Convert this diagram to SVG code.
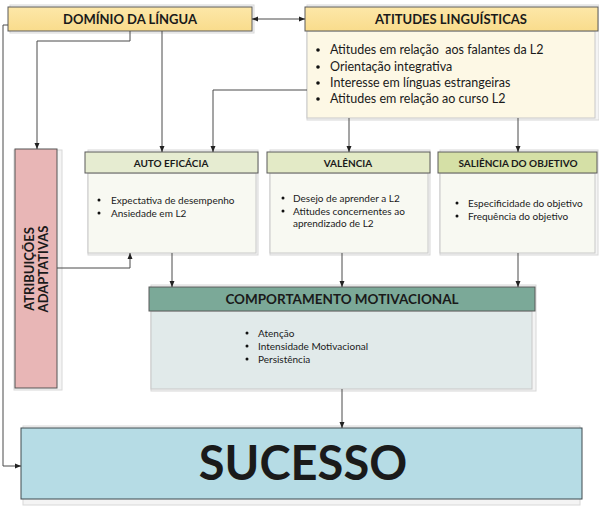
<svg xmlns="http://www.w3.org/2000/svg" width="599" height="511" viewBox="0 0 599 511">
<defs>
<marker id="ah" viewBox="0 0 6 6" refX="6" refY="3" markerWidth="6" markerHeight="6" markerUnits="userSpaceOnUse" orient="auto-start-reverse">
<path d="M0,0.5 L6,3 L0,5.5 Z" fill="#222"/>
</marker>
<linearGradient id="gold" x1="0" y1="0" x2="0" y2="1"><stop offset="0" stop-color="#fde7a8"/><stop offset="1" stop-color="#f9dc8c"/></linearGradient>
</defs>
<style>
.sh{fill:#f4f4f4;stroke:#d8d8d8;stroke-width:1}
.hd{stroke:#5a5a5a;stroke-width:1}
.bd{stroke:#c8c8c8;stroke-width:1}
.t{font-family:Lato,"Open Sans","DejaVu Sans",sans-serif;fill:#1a1a1a}
.b{font-weight:bold}
.c{stroke:#4a4a4a;stroke-width:1;fill:none}
</style>

<g id="dominio">
<rect class="sh" x="10" y="5" width="244" height="28"/>
<rect class="hd" x="8" y="7" width="244" height="24" fill="url(#gold)"/>
<text class="t b" x="130" y="24" font-size="13" text-anchor="middle">DOMÍNIO DA LÍNGUA</text>
</g>

<g id="atitudes">
<rect class="sh" x="307" y="5" width="292" height="115"/>
<rect class="bd" x="307" y="31" width="288" height="87" fill="#fdf8e5"/>
<rect class="hd" x="305" y="7" width="293" height="24" fill="url(#gold)"/>
<text class="t b" x="451" y="24" font-size="13" text-anchor="middle">ATITUDES LINGUÍSTICAS</text>
<g class="t" font-size="12.5">
<circle cx="318" cy="50" r="1.8" fill="#111"/><text x="330" y="54">Atitudes em relação&#160; aos falantes da L2</text>
<circle cx="318" cy="67" r="1.8" fill="#111"/><text x="330" y="71">Orientação integrativa</text>
<circle cx="318" cy="83" r="1.8" fill="#111"/><text x="330" y="87">Interesse em línguas estrangeiras</text>
<circle cx="318" cy="99" r="1.8" fill="#111"/><text x="330" y="103">Atitudes em relação ao curso L2</text>
</g>
</g>

<g id="atribuicoes">
<rect class="sh" x="14" y="150" width="48" height="240" fill="#f7f2f2"/>
<rect x="15" y="149" width="42" height="239" fill="#e8b6b6" stroke="#555" stroke-width="1"/>
<text class="t b" font-size="13" text-anchor="middle" transform="translate(33.5,269) rotate(-90)">ATRIBUIÇÕES</text>
<text class="t b" font-size="13" text-anchor="middle" transform="translate(47.5,269) rotate(-90)">ADAPTATIVAS</text>
</g>

<g id="auto-eficacia">
<rect class="sh" x="88" y="150" width="170" height="105"/>
<rect class="bd" x="88" y="173" width="168" height="80" fill="#f8f9f2"/>
<rect class="hd" x="85" y="152" width="173" height="21" fill="#e6ecd1"/>
<text class="t b" x="171" y="166.5" font-size="10" text-anchor="middle">AUTO EFICÁCIA</text>
<g class="t" font-size="10">
<circle cx="99" cy="200" r="1.5" fill="#111"/><text x="111" y="203.5">Expectativa de desempenho</text>
<circle cx="99" cy="213" r="1.5" fill="#111"/><text x="111" y="216.5">Ansiedade em L2</text>
</g>
</g>

<g id="valencia">
<rect class="sh" x="270" y="150" width="160" height="105"/>
<rect class="bd" x="270" y="173" width="158" height="80" fill="#f8f9f2"/>
<rect class="hd" x="267" y="152" width="163" height="21" fill="#e3eac6"/>
<text class="t b" x="348" y="166.5" font-size="10" text-anchor="middle">VALÊNCIA</text>
<g class="t" font-size="10">
<circle cx="283" cy="198" r="1.5" fill="#111"/><text x="293" y="201.5">Desejo de aprender a L2</text>
<circle cx="283" cy="211" r="1.5" fill="#111"/><text x="293" y="214.5">Atitudes concernentes ao</text>
<text x="293" y="226.5">aprendizado de L2</text>
</g>
</g>

<g id="saliencia">
<rect class="sh" x="440" y="150" width="158" height="105"/>
<rect class="bd" x="440" y="173" width="155" height="80" fill="#f8f9f2"/>
<rect class="hd" x="438" y="152" width="159" height="21" fill="#d5e0a6"/>
<text class="t b" x="518" y="166.5" font-size="10" text-anchor="middle">SALIÊNCIA DO OBJETIVO</text>
<g class="t" font-size="10">
<circle cx="457" cy="203" r="1.5" fill="#111"/><text x="468" y="206.5">Especificidade do objetivo</text>
<circle cx="457" cy="216" r="1.5" fill="#111"/><text x="468" y="219.5">Frequência do objetivo</text>
</g>
</g>

<g id="comportamento">
<rect class="sh" x="151" y="285" width="385" height="106"/>
<rect class="bd" x="151" y="311" width="381" height="78" fill="#e1eaea"/>
<rect class="hd" x="149" y="287" width="386" height="24" fill="#7ba998"/>
<text class="t b" x="342" y="304" font-size="13.5" text-anchor="middle">COMPORTAMENTO MOTIVACIONAL</text>
<g class="t" font-size="10">
<circle cx="247" cy="333" r="1.5" fill="#111"/><text x="258" y="336.5">Atenção</text>
<circle cx="247" cy="346" r="1.5" fill="#111"/><text x="258" y="349.5">Intensidade Motivacional</text>
<circle cx="247" cy="359" r="1.5" fill="#111"/><text x="258" y="362.5">Persistência</text>
</g>
</g>

<g id="sucesso">
<rect class="sh" x="23" y="426" width="557" height="79" fill="#eef6f8"/>
<rect x="21" y="428" width="561" height="71" fill="#b6dce5" stroke="#3f4a4f" stroke-width="1"/>
<text class="t b" x="303" y="480" font-size="47" text-anchor="middle" fill="#0a0a0a">SUCESSO</text>
</g>

<g id="connectors" class="c">
<path d="M8,25 H3 V466 H21" marker-end="url(#ah)"/>
<path d="M130,31 V41 H37 V149" marker-end="url(#ah)"/>
<path d="M162,31 V152" marker-end="url(#ah)"/>
<path d="M252,19 H305" marker-start="url(#ah)" marker-end="url(#ah)"/>
<path d="M307,90 H213 V152" marker-end="url(#ah)"/>
<path d="M349,118 V152" marker-end="url(#ah)"/>
<path d="M518,118 V152" marker-end="url(#ah)"/>
<path d="M57,268 H130 V253" marker-end="url(#ah)"/>
<path d="M172,253 V287" marker-end="url(#ah)"/>
<path d="M342,253 V287" marker-end="url(#ah)"/>
<path d="M518,253 V287" marker-end="url(#ah)"/>
<path d="M342,389 V428" marker-end="url(#ah)"/>
</g>
</svg>
